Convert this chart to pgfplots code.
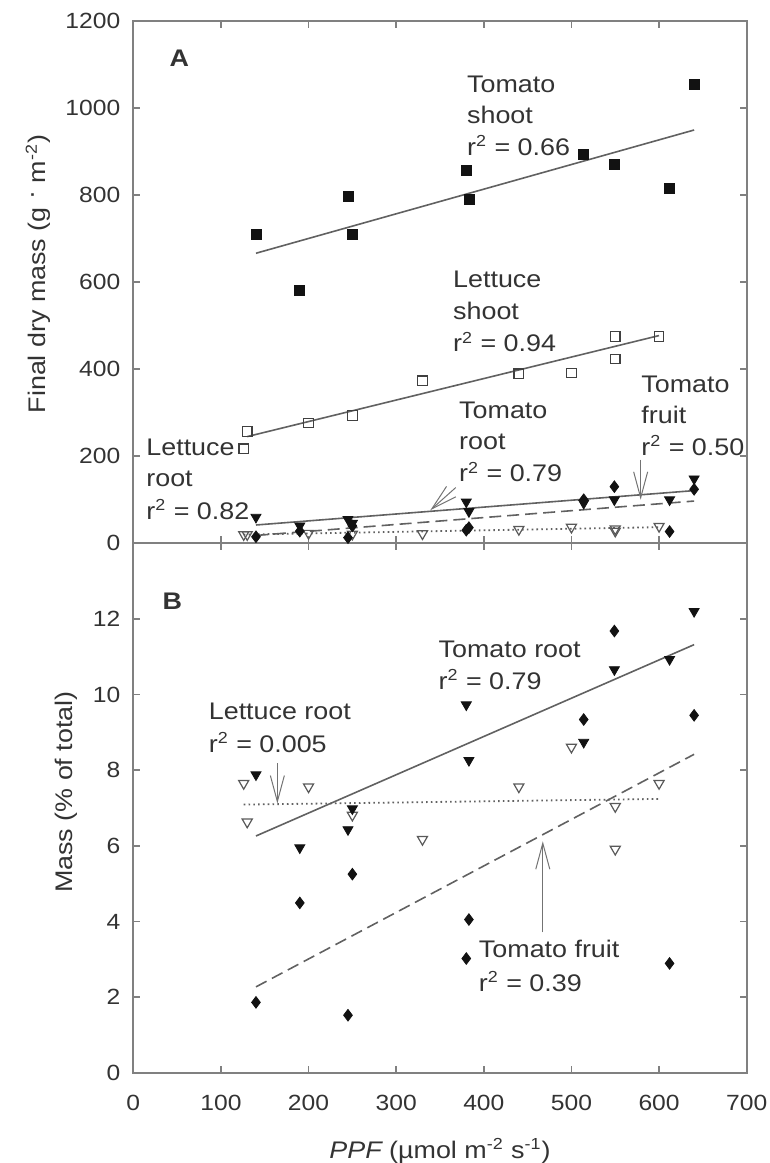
\documentclass[border=0pt]{standalone}
\usepackage{pgfplots}
\pgfplotsset{compat=1.18}
\usepackage{fontspec}
\setmainfont{Liberation Sans}[FakeStretch=1.12]
\usetikzlibrary{arrows.meta}
\definecolor{frame}{gray}{0.5}
\definecolor{fitline}{gray}{0.38}
\definecolor{txt}{gray}{0.2}
\definecolor{mk}{gray}{0.07}
\tikzset{
  ann/.style={anchor=base west, inner sep=0pt, text=txt},
  arr/.style={draw=black!55, line width=0.5pt, -{Straight Barb[length=13pt,width=7pt]}},
}
\begin{document}
\begin{tikzpicture}[font=\fontsize{12}{15.8}\selectfont]
\pgfplotsset{
  panel/.style={
    scale only axis, width=306.7pt,
    xmin=0, xmax=700, xtick={0,100,...,700},
    axis line style={draw=frame, line width=1pt},
    tick style={draw=frame, line width=0.8pt},
    major tick length=3.5pt,
    tick align=inside,
    clip=false,
    /pgf/number format/assume math mode=true,
    /pgf/number format/1000 sep={},
    ticklabel style={font=\fontsize{11}{13}\selectfont, text=txt},
    yticklabel style={xshift=-3pt},
    xticklabel style={yshift=-7.5pt},
    label style={font=\fontsize{12}{14}\selectfont, text=txt},
  },
  fit/.style={draw=fitline, line width=0.8pt, no marks},
  dashfit/.style={fit, dash pattern=on 6pt off 3pt},
  dotfit/.style={fit, line width=0.9pt, dash pattern=on 0.8pt off 1.6pt},
  tshoot/.style={only marks, mark=square*, mark size=2.5pt, mark options={draw=mk, fill=mk}},
  lshoot/.style={only marks, mark=square, mark size=2.4pt, mark options={draw=black!75, fill=white, line width=0.6pt}},
  troot/.style={only marks, mark=triangle*, mark size=2.9pt, mark options={draw=mk, fill=mk, rotate=180}},
  lroot/.style={only marks, mark=triangle, mark size=2.9pt, mark options={draw=black!65, fill=white, line width=0.6pt, rotate=180}},
  tfruit/.style={only marks, mark=diamond*, mark size=2.9pt, mark options={draw=mk, fill=mk}},
}
% ---------------- Panel B (bottom) ----------------
\begin{axis}[panel, at={(0,0)}, anchor=south west, height=264.7pt,
  ymin=0, ymax=14, ytick={0,2,...,12},
  xlabel={\itshape PPF\upshape\ (µmol m\textsuperscript{-2} s\textsuperscript{-1})},
  xlabel style={at={(axis description cs:0.5,0)}, anchor=base, yshift=-42.8pt},
  ylabel={Mass (\% of total)},
  ylabel style={at={(axis description cs:-0.110,0.530)}, anchor=center, rotate=0},
]
\addplot[fit] coordinates {(140,6.26) (640,11.32)};
\addplot[dashfit] coordinates {(140,2.27) (640,8.42)};
\addplot[dotfit] coordinates {(126,7.09) (600,7.24)};
\addplot[lroot] coordinates {(126,7.65) (130,6.63) (200,7.56) (250,6.81) (330,6.17) (440,7.56) (500,8.61) (550,7.04) (550,5.91) (600,7.65)};
\addplot[troot] coordinates {(140,7.88) (190,5.95) (245,6.43) (250,6.98) (380,9.73) (383,8.26) (514,8.74) (549,10.66) (612,10.93) (640,12.2)};
\addplot[tfruit] coordinates {(140,1.86) (190,4.49) (245,1.52) (250,5.25) (380,3.02) (383,4.05) (514,9.34) (549,11.68) (612,2.89) (640,9.45)};
\node[font=\fontsize{12}{14}\selectfont\bfseries, text=txt] at (axis cs:44.5,12.48) {B};
\node[ann] at (axis cs:348,10.99) {Tomato root};
\node[ann] at (axis cs:348,10.14) {r\textsuperscript{2} = 0.79};
\node[ann] at (axis cs:85.8,9.33) {Lettuce root};
\node[ann] at (axis cs:85.8,8.47) {r\textsuperscript{2} = 0.005};
\node[ann] at (axis cs:394,3.05) {Tomato fruit};
\node[ann] at (axis cs:394,2.16) {r\textsuperscript{2} = 0.39};
\draw[arr] (axis cs:164.4,8.18) -- (axis cs:164.4,7.12);
\draw[arr] (axis cs:467.3,3.71) -- (axis cs:467.3,6.12);
\end{axis}
% ---------------- Panel A (top) ----------------
\begin{axis}[panel, at={(0,264.7pt)}, anchor=south west, height=261.3pt,
  ymin=0, ymax=1200, ytick={0,200,...,1200},
  xticklabels={},
  ylabel={Final dry mass (g \raisebox{0.45ex}{·} m\textsuperscript{-2})},
  ylabel style={at={(axis description cs:-0.155,0.515)}, anchor=center, rotate=0},
]
\addplot[fit] coordinates {(140,666) (640,949)};
\addplot[fit] coordinates {(130,245) (600,477)};
\addplot[fit] coordinates {(140,42) (640,121)};
\addplot[dashfit] coordinates {(140,18) (640,97)};
\addplot[dotfit] coordinates {(126,20) (600,37)};
\addplot[tshoot] coordinates {(140,710) (190,580) (245,796) (250,710) (380,857) (383,789) (514,894) (549,870) (612,815) (640,1053)};
\addplot[lshoot] coordinates {(126,217) (130,257) (200,276) (250,293) (330,373) (440,389) (500,391) (550,423) (550,475) (600,475)};
\addplot[lroot] coordinates {(126,20) (130,20) (200,23) (250,21) (330,22) (440,32) (500,37) (550,33) (550,28) (600,39)};
\addplot[troot] coordinates {(140,60) (190,40) (245,55) (250,46) (380,95) (383,73) (514,92) (549,100) (612,100) (640,148)};
\addplot[tfruit] coordinates {(140,15) (190,28) (245,13) (250,40) (380,30) (383,36) (514,100) (549,130) (612,27) (640,124)};
\node[font=\fontsize{12}{14}\selectfont\bfseries, text=txt] at (axis cs:52.5,1113) {A};
\node[ann] at (axis cs:380.5,1036) {Tomato};
\node[ann] at (axis cs:380.5,965) {shoot};
\node[ann] at (axis cs:380.5,891) {r\textsuperscript{2} = 0.66};
\node[ann] at (axis cs:364.6,586.7) {Lettuce};
\node[ann] at (axis cs:364.6,514) {shoot};
\node[ann] at (axis cs:364.6,439.7) {r\textsuperscript{2} = 0.94};
\node[ann] at (axis cs:371.5,286.8) {Tomato};
\node[ann] at (axis cs:371.5,215.7) {root};
\node[ann] at (axis cs:371.5,141.3) {r\textsuperscript{2} = 0.79};
\node[ann] at (axis cs:579.4,345.6) {Tomato};
\node[ann] at (axis cs:579.4,275.3) {fruit};
\node[ann] at (axis cs:579.4,202.6) {r\textsuperscript{2} = 0.50};
\node[ann] at (axis cs:14.5,202.6) {Lettuce};
\node[ann] at (axis cs:14.5,131.5) {root};
\node[ann] at (axis cs:14.5,55) {r\textsuperscript{2} = 0.82};
\draw[arr] (axis cs:368,128) -- (axis cs:339,76);
\draw[arr] (axis cs:579,192) -- (axis cs:579,100);
\end{axis}
\pgfresetboundingbox
\path (-66.65pt,-45.15pt) rectangle (318.35pt,536.35pt);
\end{tikzpicture}
\end{document}
